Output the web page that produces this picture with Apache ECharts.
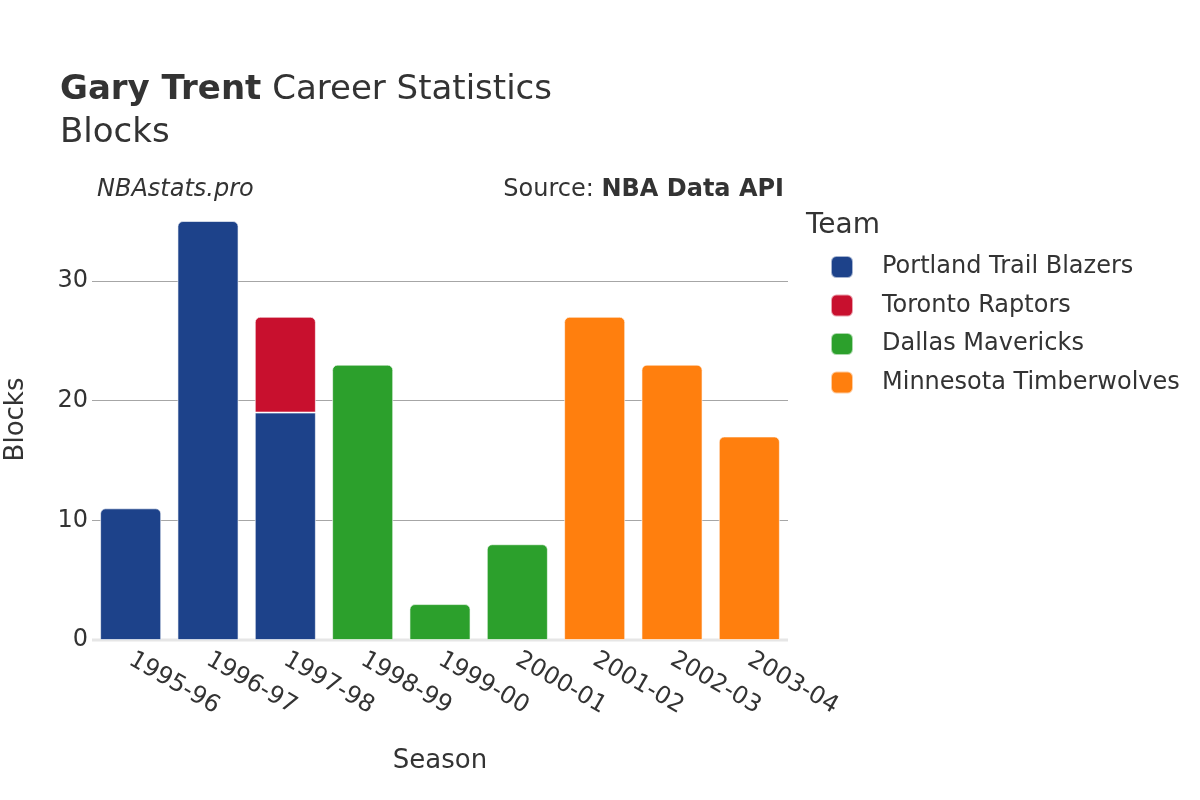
<!DOCTYPE html>
<html>
<head>
<meta charset="utf-8">
<script src="https://cdn.jsdelivr.net/npm/echarts@6/dist/echarts.min.js"></script>
<style>html,body{margin:0;padding:0;background:#fff;}#c{width:1200px;height:800px;}</style>
</head>
<body>
<div id="c"></div>
<script>
const seasons = ['1995-96','1996-97','1997-98','1998-99','1999-00','2000-01','2001-02','2002-03','2003-04'];
const portland = [11, 35, 19, null, null, null, null, null, null];
const toronto = [null, null, 8, null, null, null, null, null, null];
const dallas = [null, null, null, 23, 3, 8, null, null, null];
const minnesota = [null, null, null, null, null, null, 27, 23, 17];
const yTicks = [0, 10, 20, 30];

const teams = [
  {name: 'Portland Trail Blazers', data: portland, color: '#1d428a'},
  {name: 'Toronto Raptors', data: toronto, color: '#c8102e'},
  {name: 'Dallas Mavericks', data: dallas, color: '#2ca02c'},
  {name: 'Minnesota Timberwolves', data: minnesota, color: '#ff7f0e'}
];

const font = 'DejaVu Sans, Verdana, sans-serif';
const chart = echarts.init(document.getElementById('c'));

function isTop(ti, i) {
  for (let k = ti + 1; k < teams.length; k++) {
    if (teams[k].data[i] != null) return false;
  }
  return true;
}

const series = teams.map((t, ti) => ({
  name: t.name,
  type: 'bar',
  stack: 'total',
  barCategoryGap: '21%',
  itemStyle: {color: t.color, borderColor: 'rgba(255,255,255,0.6)', borderWidth: 1},
  data: t.data.map((v, i) => v == null ? null : {
    value: v,
    itemStyle: {borderRadius: isTop(ti, i) ? [5, 5, 0, 0] : 0}
  })
}));

chart.setOption({
  animation: false,
  textStyle: {fontFamily: font},
  graphic: [
    {type: 'text', left: 60, top: 73, style: {text: '{b|Gary Trent} Career Statistics', rich: {b: {fontWeight: 'bold', fontSize: 34, fill: '#333', fontFamily: font}}, fontSize: 34, fill: '#333', fontFamily: font}},
    {type: 'text', left: 60, top: 116, style: {text: 'Blocks', fontSize: 34, fill: '#333', fontFamily: font}},
    {type: 'text', left: 97, top: 178, style: {text: 'NBAstats.pro', fontSize: 24, fontStyle: 'italic', fill: '#333', fontFamily: font}},
    {type: 'text', right: 416, top: 178, style: {text: 'Source: {b|NBA Data API}', rich: {b: {fontWeight: 'bold', fontSize: 24, fill: '#333', fontFamily: font}}, fontSize: 24, fill: '#333', fontFamily: font, align: 'right'}},
    {type: 'text', left: 806, top: 212, style: {text: 'Team', fontSize: 28, fill: '#333', fontFamily: font}},
    {type: 'line', shape: {x1: 92, y1: 640, x2: 788, y2: 640}, style: {stroke: '#e6e6e6', lineWidth: 3}, z: -1}
  ],
  legend: {
    orient: 'vertical',
    left: 825,
    top: 250,
    itemWidth: 22,
    itemHeight: 22,
    itemGap: 14.5,
    icon: 'roundRect',
    textStyle: {fontSize: 24, color: '#333', fontFamily: font, padding: [0, 0, 0, 24]},
    data: teams.map(t => t.name)
  },
  grid: {left: 92, right: 412, top: 199, bottom: 160, containLabel: false, outerBoundsMode: 'none'},
  xAxis: {
    type: 'category',
    data: seasons,
    axisLine: {show: false},
    axisTick: {show: false},
    axisLabel: {rotate: -30, fontSize: 24, color: '#333', margin: 18, fontFamily: font},
    name: 'Season',
    nameLocation: 'middle',
    nameGap: 108,
    nameTextStyle: {fontSize: 26, color: '#333', fontFamily: font}
  },
  yAxis: {
    type: 'value',
    min: 0,
    max: 36.84,
    interval: 10,
    axisLine: {show: false},
    axisTick: {show: false},
    splitLine: {lineStyle: {color: '#a6a6a6', width: 1}, showMinLine: false, showMaxLine: false},
    axisLabel: {fontSize: 24, color: '#333', margin: 4, fontFamily: font,
      formatter: v => yTicks.includes(v) ? String(v) : ''},
    name: 'Blocks',
    nameLocation: 'middle',
    nameGap: 63,
    nameTextStyle: {fontSize: 26, color: '#333', fontFamily: font}
  },
  series: series
});
</script>
</body>
</html>
